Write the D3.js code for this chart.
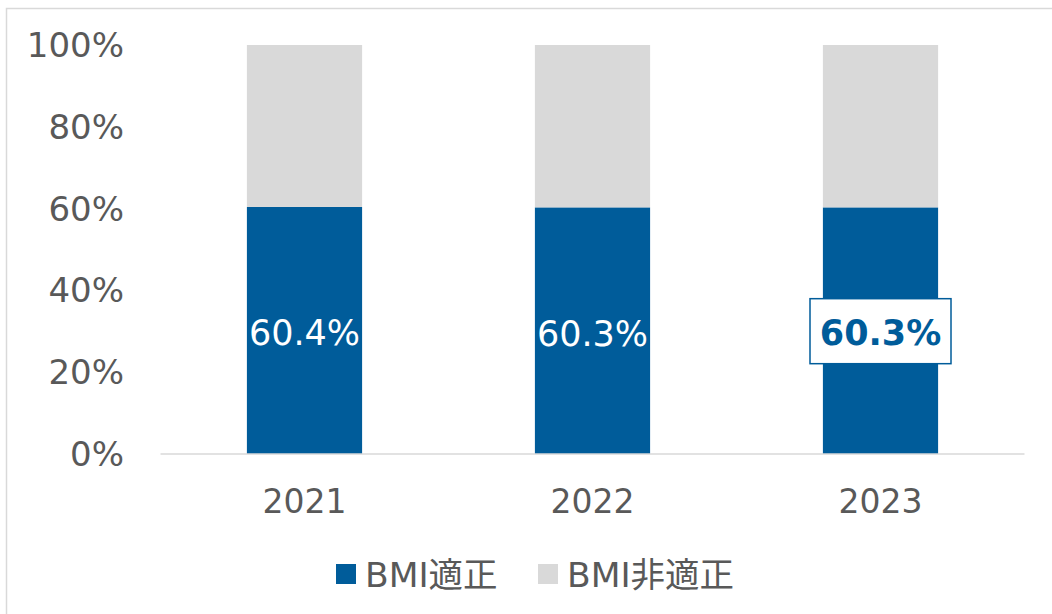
<!DOCTYPE html>
<html><head><meta charset="utf-8">
<script src="https://cdn.jsdelivr.net/npm/d3@7"></script>
<style>
html,body{margin:0;padding:0;background:#fff;}
svg{display:block;}
text{font-family:"DejaVu Sans","Noto Sans CJK JP",sans-serif;}
</style></head>
<body>
<svg id="chart" width="1052" height="614"></svg>
<script>
const categories = ["2021", "2022", "2023"];
const seriesNames = ["BMI適正", "BMI非適正"];
const appropriate = [0.604, 0.603, 0.603];
const inappropriate = [0.396, 0.397, 0.397];
const labels = ["60.4%", "60.3%", "60.3%"];
const highlighted = [false, false, true];
const yTicks = [0, 0.2, 0.4, 0.6, 0.8, 1.0];
const colors = ["#005C9A", "#D9D9D9"];

const svg = d3.select("#chart");
const W = 1052, H = 614;
const margin = {left: 160.5, right: 27.5, top: 45, bottom: 160};

// outer frame (left and top only visible)
svg.append("path").attr("d", `M6.5,614 L6.5,8.5 L1052,8.5`)
  .attr("fill","none").attr("stroke","#D9D9D9").attr("stroke-width",1.5);

const x = d3.scaleBand().domain(categories).range([margin.left, W - margin.right]).paddingInner(0.6).paddingOuter(0.3);
const y = d3.scaleLinear().domain([0,1]).range([454, 45]);

const stackData = categories.map((c,i)=>({cat:c, a:appropriate[i], b:inappropriate[i]}));
const stack = d3.stack().keys(["a","b"])(stackData);

svg.append("g").selectAll("g").data(stack).join("g")
  .attr("fill",(d,i)=>colors[i])
  .selectAll("rect").data(d=>d).join("rect")
  .attr("x", d=>x(d.data.cat))
  .attr("width", x.bandwidth())
  .attr("y", d=>y(d[1]))
  .attr("height", d=>y(d[0]) - y(d[1]));

// baseline
svg.append("line").attr("x1", margin.left).attr("x2", W - margin.right)
  .attr("y1", y(0)).attr("y2", y(0)).attr("stroke","#D9D9D9").attr("stroke-width",1.5);

// y axis labels
const yAxis = d3.axisLeft(y).tickValues(yTicks).tickFormat(d3.format(".0%")).tickSize(0).tickPadding(0);
const gy = svg.append("g").attr("transform","translate(124,0)").call(yAxis);
gy.select(".domain").remove();
gy.selectAll("text").attr("font-size",34).attr("fill","#595959").attr("font-family","DejaVu Sans").attr("dy","0.34em");

// x axis labels
const xAxis = d3.axisBottom(x).tickSize(0).tickPadding(0);
const gx = svg.append("g").attr("transform","translate(0,490)").call(xAxis);
gx.select(".domain").remove();
gx.selectAll("text").attr("font-size",33).attr("fill","#595959").attr("font-family","DejaVu Sans");

// data labels
const lab = svg.append("g");
categories.forEach((c,i)=>{
  const cx = x(c) + x.bandwidth()/2;
  const cy = y(appropriate[i]/2);
  if (highlighted[i]) {
    lab.append("rect").attr("x", cx - 70.5).attr("y", cy - 32).attr("width",141).attr("height",65)
      .attr("fill","#fff").attr("stroke","#005C9A").attr("stroke-width",1.5);
    lab.append("text").attr("x",cx).attr("y",cy+2).attr("text-anchor","middle").attr("dominant-baseline","central")
      .attr("font-size",35).attr("font-weight","bold").attr("fill","#005C9A").text(labels[i]);
  } else {
    lab.append("text").attr("x",cx).attr("y",cy+3).attr("text-anchor","middle").attr("dominant-baseline","central")
      .attr("font-size",35).attr("fill","#fff").text(labels[i]);
  }
});

// legend
const legendX = [336, 538];
const lg = svg.append("g");
seriesNames.forEach((n,i)=>{
  lg.append("rect").attr("x",legendX[i]).attr("y",564).attr("width",20).attr("height",20).attr("fill",colors[i]);
  lg.append("text").attr("x",legendX[i]+29).attr("y",575).attr("dominant-baseline","central")
    .attr("font-size",34.5).attr("fill","#595959").text(n);
});
</script>
</body></html>
